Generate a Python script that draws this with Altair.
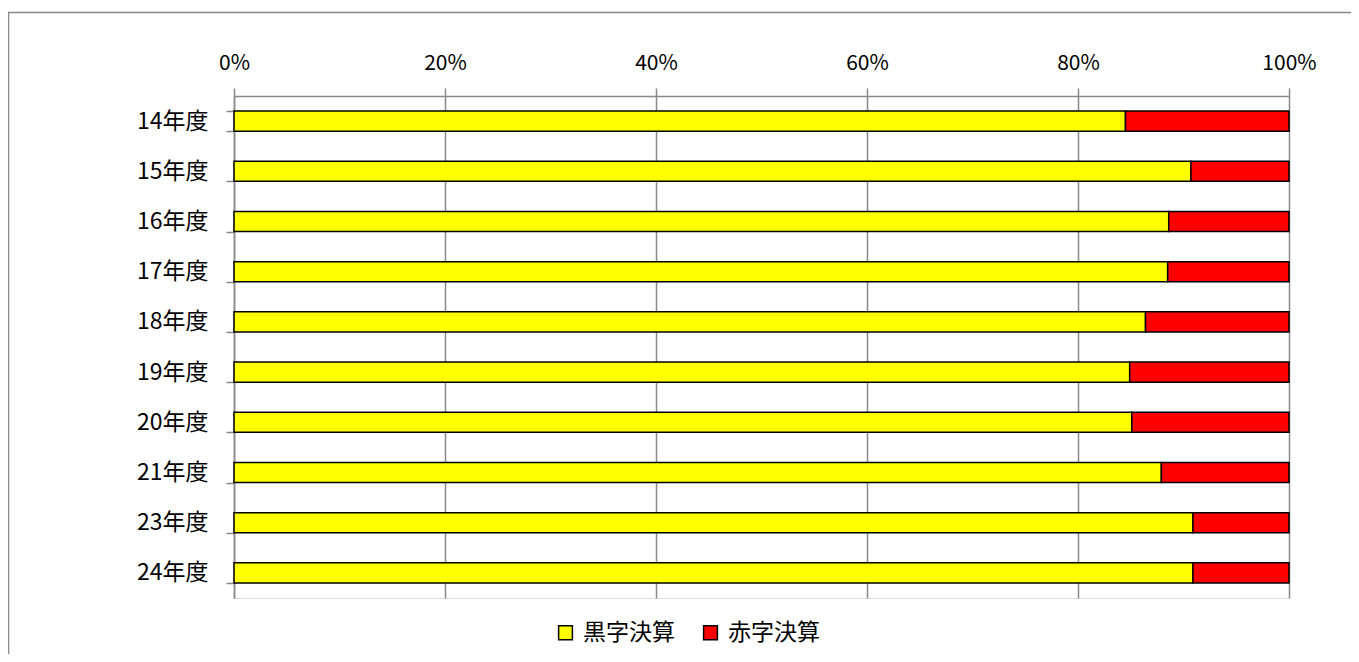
import altair as alt
import pandas as pd

years = ["14年度", "15年度", "16年度", "17年度", "18年度", "19年度", "20年度", "21年度", "23年度", "24年度"]
black = [84.5, 90.7, 88.6, 88.5, 86.4, 84.9, 85.1, 87.9, 90.9, 90.9]
red = [15.5, 9.3, 11.4, 11.5, 13.6, 15.1, 14.9, 12.1, 9.1, 9.1]
series = ["黒字決算", "赤字決算"]
colors = ["#FFFF00", "#FF0000"]
x_ticks = [0, 0.2, 0.4, 0.6, 0.8, 1.0]

rows = []
for y, b, r in zip(years, black, red):
    rows.append({"year": y, "series": series[0], "value": b, "ord": 0})
    rows.append({"year": y, "series": series[1], "value": r, "ord": 1})
df = pd.DataFrame(rows)

FONT = "Noto Sans CJK JP"

bars = alt.Chart(df).mark_bar(stroke="black", strokeWidth=1.5).encode(
    y=alt.Y("year:N", sort=years, title=None,
            scale=alt.Scale(paddingInner=0.6, paddingOuter=0.3),
            axis=alt.Axis(tickBand="extent", domainColor="#898989", domainWidth=1.5,
                          tickColor="#898989", tickWidth=1.5, tickSize=8,
                          labelFont=FONT, labelFontSize=23, labelColor="#000000",
                          labelPadding=18, grid=False)),
    x=alt.X("value:Q", stack="normalize", title=None,
            scale=alt.Scale(domain=[0, 1], nice=False),
            axis=alt.Axis(orient="top", format=".0%", values=x_ticks,
                          domainColor="#898989", domainWidth=1.5,
                          tickColor="#898989", tickWidth=1.5, tickSize=8,
                          gridColor="#898989", gridWidth=1.5, grid=True,
                          labelFont=FONT, labelFontSize=21, labelColor="#000000",
                          labelPadding=15, labelFlush=False, labelOverlap=False)),
    color=alt.Color("series:N", sort=series,
                    scale=alt.Scale(domain=series, range=colors),
                    legend=alt.Legend(title=None, orient="none", direction="horizontal",
                                      legendX=320, legendY=525, symbolType="square",
                                      symbolSize=190, symbolStrokeColor="black",
                                      symbolStrokeWidth=1.5, labelFont=FONT,
                                      labelFontSize=23, labelColor="#000000",
                                      labelOffset=6, columnPadding=24, padding=0)),
    order=alt.Order("ord:Q"),
)

frame = alt.Chart(pd.DataFrame({"a": [0]})).mark_rect(
    fill=None, stroke="#898989", strokeWidth=1.5, clip=False
).encode(
    x=alt.value(-225.5), x2=alt.value(1300),
    y=alt.value(-83.5), y2=alt.value(700),
)

chart = alt.layer(frame, bars).properties(
    width=1055, height=502,
    padding={"left": 226, "top": 88, "right": 62, "bottom": 56},
    autosize=alt.AutoSizeParams(type="none"),
).configure_view(stroke=None).configure(background="white")

chart.save("out.html", embed_options={"renderer": "svg", "actions": False})
